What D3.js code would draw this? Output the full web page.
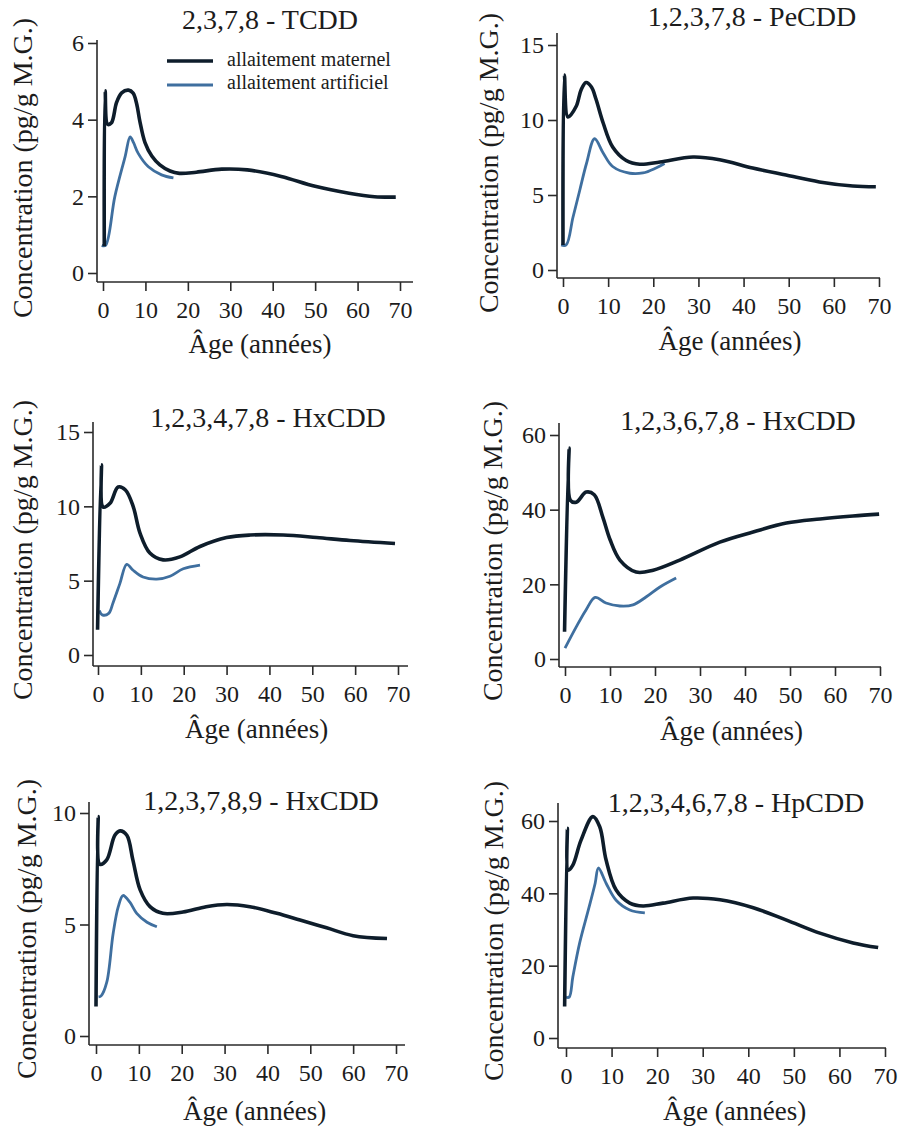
<!DOCTYPE html>
<html><head><meta charset="utf-8">
<script src="https://cdn.jsdelivr.net/npm/d3@7"></script>
<style>
body{margin:0;background:#fff}
svg{display:block}
text{font-family:"Liberation Serif","Times New Roman",serif;fill:#1c1c1c}
</style>
</head><body>
<svg id="chart" width="907" height="1129"></svg>
<script>
// ---------- DATA ----------
const titles = ["2,3,7,8 - TCDD", "1,2,3,7,8 - PeCDD", "1,2,3,4,7,8 - HxCDD",
                "1,2,3,6,7,8 - HxCDD", "1,2,3,7,8,9 - HxCDD", "1,2,3,4,6,7,8  - HpCDD"];
const xTickValues = [0, 10, 20, 30, 40, 50, 60, 70];
const yTickValues = [[0, 2, 4, 6], [0, 5, 10, 15], [0, 5, 10, 15], [0, 20, 40, 60], [0, 5, 10], [0, 20, 40, 60]];
const yAxisTitle = "Concentration (pg/g M.G.)";
const xAxisTitle = "Âge (années)";
const legendLabels = ["allaitement maternel", "allaitement artificiel"];

// [age (années), concentration]
const tcddMaternel = [[0.3,0.7],[0.5,4.75],[1.1,3.88],[2.0,3.92],[3.2,4.45],[4.4,4.7],[6.0,4.77],[7.1,4.69],[7.9,4.43],[8.7,3.95],[9.9,3.4],[11.5,3.05],[13.4,2.82],[15.8,2.66],[18,2.6],[22,2.63],[28,2.71],[34,2.69],[42,2.52],[50,2.26],[58,2.08],[64,1.99],[69,1.98]];
const tcddArtificiel = [[-0.3,0.72],[0.6,0.72],[2.8,2.0],[5.2,3.03],[6.4,3.55],[7.2,3.4],[8.3,3.12],[10.7,2.77],[13.8,2.56],[16.6,2.48]];
const pecddMaternel = [[0,1.67],[0.3,13.0],[1.1,10.2],[2.9,10.9],[4.0,12.0],[5.1,12.5],[6.3,12.2],[7.3,11.4],[8.9,9.8],[11,8.2],[14,7.3],[17,7.05],[21.5,7.2],[28.8,7.53],[34.7,7.35],[42,6.8],[49.4,6.33],[56.8,5.87],[64.2,5.6],[69.3,5.55]];
const pecddArtificiel = [[-0.4,1.67],[0.7,1.67],[2.2,3.5],[3.7,5.3],[5.2,7.1],[7.0,8.75],[8.9,7.8],[11,6.9],[14.8,6.45],[17.7,6.47],[20.6,6.8],[22.5,7.1]];
const hx478Maternel = [[-0.1,1.7],[0.8,12.8],[1.2,9.95],[2.8,10.2],[4.7,11.3],[6.4,11.1],[8.2,10.0],[9.8,8.2],[12.1,6.86],[15.2,6.4],[19.1,6.6],[23.8,7.3],[30,7.9],[35.5,8.07],[43.2,8.07],[51,7.9],[58.8,7.7],[69.3,7.5]];
const hx478Artificiel = [[0.3,3.0],[1,2.7],[2.5,2.8],[3.5,3.5],[5.1,4.8],[6.7,6.1],[8.2,5.7],[10.5,5.25],[13.7,5.1],[16.8,5.3],[19.9,5.8],[23.8,6.05]];
const hx678Maternel = [[-0.1,7.3],[0.9,56.5],[1.2,42.5],[2.5,42],[4.7,44.7],[6.5,44],[8.4,38],[10,32],[12.2,26.5],[15.8,23.3],[19.6,23.8],[25.5,26.5],[34.4,31.3],[41.8,34],[49.2,36.4],[56.7,37.5],[64,38.3],[69.8,38.8]];
const hx678Artificiel = [[0,2.9],[2.5,8.6],[4.7,13.2],[6.7,16.5],[9.1,15],[12.2,14.2],[15.1,14.5],[18,16.6],[21.1,19.3],[24.7,21.7]];
const hx789Maternel = [[0,1.32],[0.5,9.84],[0.9,7.7],[2.5,7.9],[4.4,9.0],[5.6,9.2],[7.2,9.0],[8.6,7.9],[10.3,6.55],[12.6,5.8],[15.6,5.5],[20.3,5.56],[25.7,5.8],[30.5,5.9],[35.9,5.8],[42.2,5.5],[47.6,5.2],[53.8,4.85],[60,4.5],[67.9,4.37]];
const hx789Artificiel = [[0.6,1.75],[1.2,1.8],[2.5,2.4],[4,4.6],[5.2,5.8],[6.3,6.3],[7.9,6.0],[9.5,5.5],[11.9,5.1],[14.2,4.9]];
const hpcddMaternel = [[-0.3,8.7],[0.3,58],[0.5,46.4],[1.5,47.8],[3.3,54.7],[5.9,61.2],[7.4,58.4],[8.8,49.2],[11,40.9],[14,37.3],[16.9,36.5],[21.3,37.3],[27.9,38.7],[33.8,38.2],[41.1,36],[48.4,32.6],[55.7,29],[63,26.3],[68.5,25]];
const hpcddArtificiel = [[0,11.3],[0.7,11.3],[1.5,16.9],[3,26.3],[4.9,35.4],[6.4,42.8],[7.1,47],[8.8,42.8],[11,38.1],[14,35.4],[17.3,34.6]];

const maternelSeries = [tcddMaternel, pecddMaternel, hx478Maternel, hx678Maternel, hx789Maternel, hpcddMaternel];
const artificielSeries = [tcddArtificiel, pecddArtificiel, hx478Artificiel, hx678Artificiel, hx789Artificiel, hpcddArtificiel];

// ---------- LAYOUT (pixels) ----------
const frames = [
  {axisX:97,  x0:103, x70:400, y0:273,  yTop:43,  axisY:282,  xEnd:413, yAxisTop:40,  titleX:270, titleY:29,  ytX:22,  ytY:168, xtY:353},
  {axisX:557, x0:563, x70:879, y0:270,  yTop:45,  axisY:278,  xEnd:880, yAxisTop:33,  titleX:752, titleY:26,  ytX:488, ytY:163, xtY:350},
  {axisX:93,  x0:98,  x70:398, y0:655,  yTop:432, axisY:666,  xEnd:408, yAxisTop:422, titleX:268, titleY:427, ytX:22,  ytY:550, xtY:738},
  {axisX:559, x0:565, x70:880, y0:659,  yTop:435, axisY:667,  xEnd:881, yAxisTop:423, titleX:738, titleY:430, ytX:492, ytY:551, xtY:740},
  {axisX:89,  x0:96,  x70:396, y0:1036, yTop:813, axisY:1045, xEnd:405, yAxisTop:802, titleX:261, titleY:810, ytX:26,  ytY:929, xtY:1120},
  {axisX:558, x0:566, x70:885, y0:1038, yTop:821, axisY:1048, xEnd:886, yAxisTop:803, titleX:736, titleY:812, ytX:493, ytY:931, xtY:1120}
];
const darkColor = "#0e1d2b";
const blueColor = "#3f6f9f";
const axisColor = "#2a2a2a";
const serif = '"Liberation Serif", "Times New Roman", serif';

const svg = d3.select("#chart");

frames.forEach((f, i) => {
  const yt = yTickValues[i];
  const x = d3.scaleLinear().domain([0, 70]).range([f.x0, f.x70]);
  const y = d3.scaleLinear().domain([0, yt[yt.length - 1]]).range([f.y0, f.yTop]);
  const g = svg.append("g").attr("font-family", serif);

  g.append("line").attr("x1", f.axisX).attr("x2", f.axisX).attr("y1", f.yAxisTop).attr("y2", f.axisY)
    .attr("stroke", axisColor).attr("stroke-width", 1.6);
  g.append("line").attr("x1", f.axisX).attr("x2", f.xEnd).attr("y1", f.axisY).attr("y2", f.axisY)
    .attr("stroke", axisColor).attr("stroke-width", 1.6);

  const ya = g.append("g").attr("transform", `translate(${f.axisX},0)`)
    .call(d3.axisLeft(y).tickValues(yt).tickSize(9).tickPadding(4).tickFormat(d3.format("d")));
  ya.attr("font-family", serif).attr("font-size", 24);
  ya.select(".domain").remove();
  ya.selectAll("line").attr("stroke", axisColor).attr("stroke-width", 1.6);
  ya.selectAll("text").attr("fill", "#1c1c1c").style("font-family", serif).style("font-size", "24px");

  const xa = g.append("g").attr("transform", `translate(0,${f.axisY})`)
    .call(d3.axisBottom(x).tickValues(xTickValues).tickSize(9).tickPadding(10).tickFormat(d3.format("d")));
  xa.attr("font-family", serif).attr("font-size", 24);
  xa.select(".domain").remove();
  xa.selectAll("line").attr("stroke", axisColor).attr("stroke-width", 1.6);
  xa.selectAll("text").attr("fill", "#1c1c1c").style("font-family", serif).style("font-size", "24px");

  g.append("text").attr("x", f.titleX).attr("y", f.titleY).attr("text-anchor", "middle")
    .style("font-family", serif).style("font-size", "28px").text(titles[i]);
  g.append("text").attr("transform", `translate(${f.ytX},${f.ytY}) rotate(-90)`).attr("dy", "0.35em")
    .attr("text-anchor", "middle").style("font-family", serif).style("font-size", "28px").text(yAxisTitle);
  g.append("text").attr("x", x(37)).attr("y", f.xtY).attr("text-anchor", "middle")
    .style("font-family", serif).style("font-size", "27px").text(xAxisTitle);

  const line = d3.line().x(d => x(d[0])).y(d => y(d[1])).curve(d3.curveCatmullRom.alpha(0.5));
  g.append("path").datum(artificielSeries[i]).attr("d", line).attr("fill", "none")
    .attr("stroke", blueColor).attr("stroke-width", 2.8).attr("stroke-linejoin", "round");
  g.append("path").datum(maternelSeries[i]).attr("d", line).attr("fill", "none")
    .attr("stroke", darkColor).attr("stroke-width", 3.6).attr("stroke-linejoin", "round");
});

const leg = svg.append("g");
[darkColor, blueColor].forEach((c, k) => {
  leg.append("line").attr("x1", 167).attr("x2", 213).attr("y1", 61 + k * 24).attr("y2", 61 + k * 24)
    .attr("stroke", c).attr("stroke-width", k === 0 ? 3.6 : 2.8);
  leg.append("text").attr("x", 227).attr("y", 66 + k * 23).style("font-family", serif)
    .style("font-size", "20px").text(legendLabels[k]);
});
</script>
</body></html>
